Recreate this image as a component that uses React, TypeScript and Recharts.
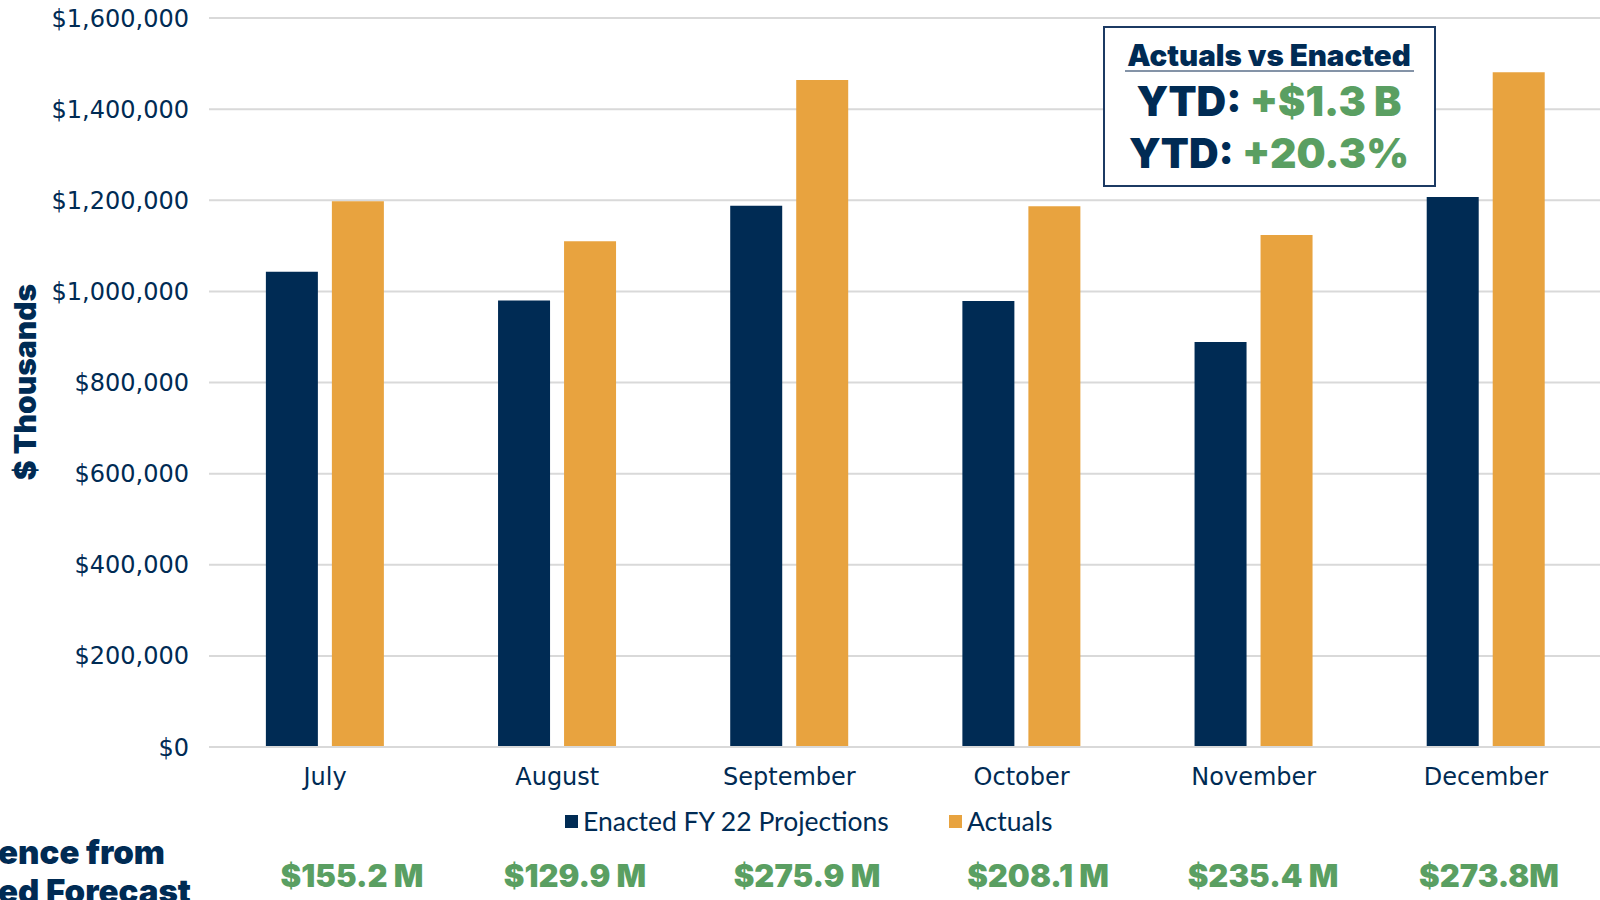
import { BarChart, Bar, XAxis, YAxis, CartesianGrid } from "recharts";

const MONTHS = ["July", "August", "September", "October", "November", "December"];
const ENACTED = [1043000, 980000, 1188000, 979000, 889000, 1207000];
const ACTUALS = [1198000, 1110000, 1464000, 1187000, 1124000, 1481000];
const DIFF_LABELS = ["$155.2 M", "$129.9 M", "$275.9 M", "$208.1 M", "$235.4 M", "$273.8M"];
const Y_TICKS = [0, 200000, 400000, 600000, 800000, 1000000, 1200000, 1400000, 1600000];

const NAVY = "#002b54";
const ORANGE = "#e8a33f";
const GREEN = "#5a9f62";
const GRID = "#d9d9d9";

// where the green difference labels sit under each month
const DIFF_X = [352, 575, 807, 1038, 1263, 1489];

const data = MONTHS.map((month, i) => ({
  month,
  enacted: ENACTED[i],
  actuals: ACTUALS[i],
}));

const fmtMoney = (v: number) => "$" + v.toLocaleString("en-US");

const tickFont = { fontFamily: "DejaVu Sans", fontSize: 24, fill: NAVY };
const heavy = "Inter, Lato, sans-serif";

export default function App() {
  return (
    <div
      style={{
        position: "absolute",
        left: 0,
        top: 0,
        width: 1600,
        height: 900,
        overflow: "hidden",
        background: "#fff",
      }}
    >
      <BarChart
        width={1610}
        height={900}
        data={data}
        margin={{ top: 18, right: 8, bottom: 0, left: 0 }}
        barCategoryGap="24.5%"
        barGap={14}
      >
        <CartesianGrid vertical={false} stroke={GRID} strokeWidth={2} />
        <XAxis
          dataKey="month"
          height={153}
          tickLine={false}
          axisLine={{ stroke: GRID, strokeWidth: 2 }}
          tickMargin={15}
          tick={tickFont}
          interval={0}
        />
        <YAxis
          width={209}
          domain={[0, 1600000]}
          ticks={Y_TICKS}
          tickFormatter={fmtMoney}
          tickLine={false}
          axisLine={false}
          tickMargin={14}
          tick={tickFont}
        />
        <Bar dataKey="enacted" fill={NAVY} isAnimationActive={false} />
        <Bar dataKey="actuals" fill={ORANGE} isAnimationActive={false} />
      </BarChart>

      <svg
        width={1600}
        height={900}
        style={{ position: "absolute", left: 0, top: 0, pointerEvents: "none" }}
      >
        {/* y axis title */}
        <text
          x={0}
          y={0}
          transform="translate(36 382) rotate(-90)"
          textAnchor="middle"
          fontFamily={heavy}
          fontWeight={900}
          fontSize={30}
          fill={NAVY}
        >
          $ Thousands
        </text>

        {/* legend */}
        <rect x={565} y={815} width={13} height={13} fill={NAVY} />
        <text x={583} y={831} fontFamily="Lato" fontSize={26.5} fill={NAVY}>
          Enacted FY 22 Projections
        </text>
        <rect x={949} y={815} width={13} height={13} fill={ORANGE} />
        <text x={967} y={831} fontFamily="Lato" fontSize={26.5} fill={NAVY}>
          Actuals
        </text>

        {/* difference row */}
        <text x={165} y={864} textAnchor="end" fontFamily={heavy} fontWeight={900} fontSize={33} fill={NAVY}>
          Difference from
        </text>
        <text x={191} y={903} textAnchor="end" fontFamily={heavy} fontWeight={900} fontSize={33} fill={NAVY}>
          Enacted Forecast
        </text>
        {DIFF_LABELS.map((lab, i) => (
          <text
            key={lab}
            x={DIFF_X[i]}
            y={887}
            textAnchor="middle"
            fontFamily={heavy}
            fontWeight={900}
            fontSize={31}
            fill={GREEN}
          >
            {lab}
          </text>
        ))}

        {/* summary box */}
        <rect x={1104} y={27} width={331} height={159} fill="#fff" stroke="#1c3a63" strokeWidth={2} />
        <text x={1269} y={66} textAnchor="middle" fontFamily={heavy} fontWeight={900} fontSize={29.5} fill={NAVY}>
          Actuals vs Enacted
        </text>
        <line x1={1125} x2={1414} y1={71} y2={71} stroke="#5b6f8a" strokeWidth={1.5} />
        <text x={1269} y={116} textAnchor="middle" fontFamily={heavy} fontWeight={900} fontSize={41}>
          <tspan fill={NAVY}>YTD: </tspan>
          <tspan fill={GREEN}>+$1.3 B</tspan>
        </text>
        <text x={1269} y={168} textAnchor="middle" fontFamily={heavy} fontWeight={900} fontSize={41}>
          <tspan fill={NAVY}>YTD: </tspan>
          <tspan fill={GREEN}>+20.3%</tspan>
        </text>
      </svg>
    </div>
  );
}
